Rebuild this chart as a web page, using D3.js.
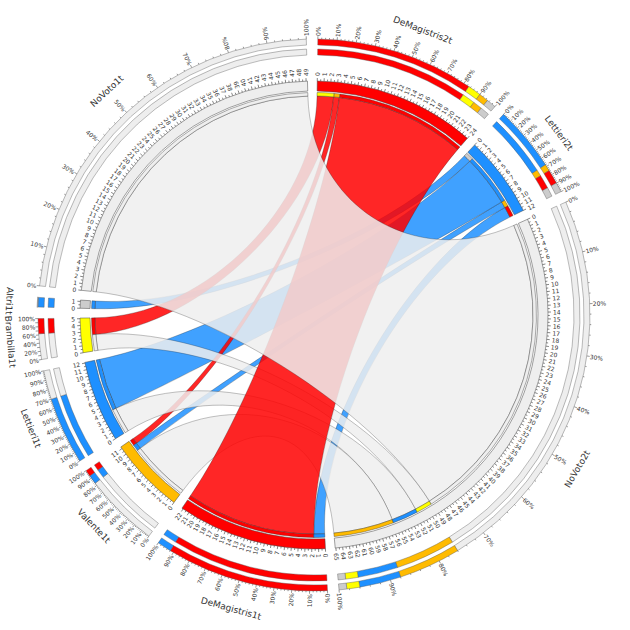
<!DOCTYPE html>
<html><head><meta charset="utf-8">
<script src="https://cdn.jsdelivr.net/npm/d3@7"></script>
<style>body{margin:0;background:#fff} text{font-family:"DejaVu Sans",sans-serif;fill:#333}</style>
</head><body><svg id="c" width="630" height="630"></svg>
<script>
// ---------------- DATA ----------------
const segNames  = ["DeMagistris2t","Lettieri2t","NoVoto2t","DeMagistris1t","Valente1t","Lettieri1t","Brambilla1t","Altri1t","NoVoto1t"];
const segColors = ["#ff0000","#1e90ff","#eeeeee","#ff0000","#ffbb00","#1e90ff","#ffff00","#cccccc","#eeeeee"];

// voter flows first round -> second round
const flowFrom = ["DeMagistris1t","DeMagistris1t","Valente1t","Valente1t","Valente1t","Lettieri1t","Lettieri1t","Brambilla1t","Brambilla1t","Altri1t","NoVoto1t"];
const flowTo   = ["DeMagistris2t","Lettieri2t","DeMagistris2t","Lettieri2t","NoVoto2t","Lettieri2t","NoVoto2t","DeMagistris2t","NoVoto2t","Lettieri2t","NoVoto2t"];
const flowVal  = [20.5, 1.7, 0.9, 1.0, 9.4, 8.1, 4.0, 2.6, 2.5, 1.2, 49.2];

// clockwise order of ribbon ends inside each segment (counterpart names)
const endOrder = [
  ["Brambilla1t","Valente1t","DeMagistris1t"],
  ["Altri1t","Lettieri1t","Valente1t","DeMagistris1t"],
  ["NoVoto1t","Brambilla1t","Lettieri1t","Valente1t"],
  ["Lettieri2t","DeMagistris2t"],
  ["NoVoto2t","Lettieri2t","DeMagistris2t"],
  ["NoVoto2t","Lettieri2t"],
  ["NoVoto2t","DeMagistris2t"],
  ["Lettieri2t"],
  ["NoVoto2t"]
];

// composition bars (percent, clockwise from 0%)
const shareSegs = [
  ["DeMagistris1t","Brambilla1t","Valente1t","Altri1t"],
  ["Lettieri1t","Valente1t","DeMagistris1t","Altri1t"],
  ["NoVoto1t","Valente1t","Lettieri1t","Brambilla1t","Altri1t"],
  ["DeMagistris2t","Lettieri2t"],
  ["NoVoto2t","Lettieri2t","DeMagistris2t"],
  ["Lettieri2t","NoVoto2t"],
  ["NoVoto2t","DeMagistris2t"],
  ["Lettieri2t"],
  ["NoVoto2t"]
];
const sharePct = [
  [83, 7, 5, 5],
  [68, 7, 15, 10],
  [76, 12, 8, 2.5, 1.5],
  [92, 8],
  [83, 10, 7],
  [70, 30],
  [63, 37],
  [100],
  [100]
];
// percent label spacing per segment (0 = no labels)
const pctLabelStep = [10, 10, 10, 10, 10, 10, 20, 0, 10];

// drawing order of ribbons (flow indices), last one on top
const drawOrder = [1, 9, 3, 5, 7, 2, 6, 4, 8, 0, 10];

// ---------------- LAYOUT ----------------
const cx = 314, cy = 315;
const R = {ideoIn:224, ideoOut:234, capIn:219, capOut:222.5, rib:219,
           b1In:260, b1Out:266, b2In:270, b2Out:276, tickLab:239, pctLab:279, name:305};
const gapDeg = 2.4, startDeg = 0.8, rad = Math.PI/180, bend = 0.5;

const segVal = segNames.map(s => d3.sum(flowVal.filter((v,i)=>flowFrom[i]===s||flowTo[i]===s)));
const total = d3.sum(segVal);
const unitDeg = (360 - gapDeg*segNames.length)/total;
let acc = startDeg;
const segScale = segNames.map((s,i) => {
  const a0 = acc, a1 = acc + segVal[i]*unitDeg;
  acc = a1 + gapDeg;
  return d3.scaleLinear().domain([0, segVal[i]]).range([a0*rad, a1*rad]);
});
const idx = s => segNames.indexOf(s);
const col = s => segColors[idx(s)];

const svg = d3.select("#c");
const g = svg.append("g").attr("transform", `translate(${cx},${cy})`);
const P = (r,a) => [r*Math.sin(a), -r*Math.cos(a)];

// ribbon end offsets
const endPos = flowVal.map(()=>({}));
segNames.forEach((s,si) => {
  let off = 0;
  endOrder[si].forEach(o => {
    const fi = flowVal.findIndex((v,i)=> (flowFrom[i]===s&&flowTo[i]===o)||(flowTo[i]===s&&flowFrom[i]===o));
    const a0 = segScale[si](off), a1 = segScale[si](off+flowVal[fi]);
    if (flowFrom[fi]===s) endPos[fi].src=[a0,a1]; else endPos[fi].tgt=[a0,a1];
    off += flowVal[fi];
  });
});

function curve(p, a, b){
  const r = R.rib, c1 = P(r*bend, a), c2 = P(r*bend, b), e = P(r, b);
  p.bezierCurveTo(c1[0],c1[1],c2[0],c2[1],e[0],e[1]);
}
function ribbon(s, t){
  const p = d3.path(), r = R.rib;
  const [s0,s1] = s, [t0,t1] = t;
  const ps0 = P(r,s0);
  p.moveTo(ps0[0], ps0[1]);
  p.arc(0,0,r,s0-Math.PI/2,s1-Math.PI/2,false);
  curve(p, s1, t0);
  p.arc(0,0,r,t0-Math.PI/2,t1-Math.PI/2,false);
  curve(p, t1, s0);
  p.closePath();
  return p.toString();
}

// ribbons
const ribG = g.append("g");
drawOrder.forEach(fi => {
  ribG.append("path").attr("d", ribbon(endPos[fi].src, endPos[fi].tgt))
    .attr("fill", col(flowTo[fi])).attr("fill-opacity", 0.85)
    .attr("stroke", "#222").attr("stroke-opacity", 0.55).attr("stroke-width", 0.5);
});

const arc = d3.arc();
// caps
flowVal.forEach((v,fi) => {
  [[endPos[fi].src, col(flowTo[fi])],[endPos[fi].tgt, col(flowFrom[fi])]].forEach(([a,c]) => {
    g.append("path").attr("d", arc({innerRadius:R.capIn, outerRadius:R.capOut, startAngle:a[0], endAngle:a[1]}))
      .attr("fill", c).attr("stroke","#333").attr("stroke-width",0.4);
  });
});

// ideograms
segNames.forEach((s,si) => {
  const [a0,a1] = segScale[si].range();
  g.append("path").attr("d", arc({innerRadius:R.ideoIn, outerRadius:R.ideoOut, startAngle:a0, endAngle:a1}))
    .attr("fill", segColors[si]).attr("stroke","#444").attr("stroke-width",0.5);
});

function radialText(r, a, txt, size, flip){
  const deg = a/rad;
  const [x,y] = P(r,a);
  g.append("text").attr("transform", `translate(${x},${y}) rotate(${flip?deg+90:deg-90})`)
   .attr("text-anchor", flip?"end":"start").attr("dominant-baseline","central")
   .attr("font-size", size).text(txt);
}
const radialFlip = a => { const d = a/rad; return d > 180 && d < 340; };

// ideogram ticks & labels
segNames.forEach((s,si) => {
  const sc = segScale[si];
  d3.range(0, segVal[si]+1e-6, 0.5).forEach(v => {
    const a = sc(v), major = Math.abs(v-Math.round(v))<1e-6;
    const p0 = P(R.ideoOut,a), p1 = P(R.ideoOut+(major?3:1.8),a);
    g.append("line").attr("x1",p0[0]).attr("y1",p0[1]).attr("x2",p1[0]).attr("y2",p1[1])
      .attr("stroke","#333").attr("stroke-width",0.6);
    if (major) radialText(R.tickLab, a, String(Math.round(v)), 6, radialFlip(a));
  });
});

// composition bars, percent scale, names
segNames.forEach((s,si) => {
  const sc = segScale[si];
  const ps = d3.scaleLinear().domain([0,100]).range(sc.range());
  let cum = 0;
  shareSegs[si].forEach((o,k) => {
    const a0 = ps(cum), a1 = ps(cum+sharePct[si][k]);
    cum += sharePct[si][k];
    [[R.b1In,R.b1Out],[R.b2In,R.b2Out]].forEach(([ri,ro]) => {
      g.append("path").attr("d", arc({innerRadius:ri, outerRadius:ro, startAngle:a0, endAngle:a1}))
        .attr("fill", col(o)).attr("stroke","#555").attr("stroke-width",0.4);
    });
  });
  const minorStep = pctLabelStep[si] === 10 ? 2 : 10;
  d3.range(0, 101, minorStep).forEach(p => {
    const a = ps(p), major = p%10===0 && pctLabelStep[si] > 0;
    const p0 = P(R.b2Out,a), p1 = P(R.b2Out+(major?2.8:1.4),a);
    g.append("line").attr("x1",p0[0]).attr("y1",p0[1]).attr("x2",p1[0]).attr("y2",p1[1])
      .attr("stroke","#333").attr("stroke-width",0.5);
  });
  if (pctLabelStep[si] > 0)
    d3.range(0, 101, pctLabelStep[si]).forEach(p => radialText(R.pctLab, ps(p), p+"%", 6, radialFlip(ps(p))));
  const am = (sc.range()[0]+sc.range()[1])/2, deg = am/rad;
  const [x,y] = P(R.name, am);
  const flip = deg > 90 && deg < 290;
  g.append("text").attr("transform", `translate(${x},${y}) rotate(${flip?deg-180:deg})`)
    .attr("text-anchor","middle").attr("dominant-baseline","central")
    .attr("font-size", 9).attr("fill","#444").text(s);
});
</script></body></html>
